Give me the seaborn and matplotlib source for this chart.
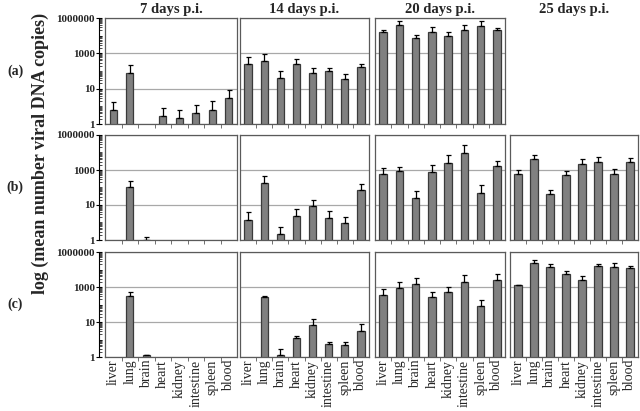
import matplotlib
matplotlib.use('Agg')
import numpy as np
import pandas as pd
import matplotlib.pyplot as plt
import seaborn as sns
from matplotlib.ticker import LogLocator, NullFormatter, FixedLocator

# --------------------------------------------------------------------------- #
# DATA  (mean copies / upper error; nan = not plotted)   #
# --------------------------------------------------------------------------- #
organs = ["liver", "lung", "brain", "heart", "kidney", "intestine", "spleen", "blood"]
days = ["7 days p.i.", "14 days p.i.", "20 days p.i.", "25 days p.i."]
rows = ["(a)", "(b)", "(c)"]
nan = np.nan

# row (a)
a7_mean = [6.2, 800, nan, 3.0, 2.2, 4.2, 6.2, 30]
a7_err = [11, 1300, nan, 4.7, 4, 7.2, 13, 54]
a14_mean = [2400, 3800, 400, 2400, 740, 1000, 350, 1700]
a14_err = [3600, 5100, 550, 2400, 810, 480, 300, 700]
a20_mean = [162000, 398000, 74000, 162000, 95000, 209000, 355000, 200000]
a20_err = [57000, 248000, 38000, 133000, 60000, 180000, 291000, 69000]
a25_mean = [nan] * 8
a25_err = [nan] * 8

# row (b)
b7_mean = [nan, 1000, 1.0, nan, nan, nan, nan, nan]
b7_err = [nan, 1240, 0.55, nan, nan, nan, nan, nan]
b14_mean = [14, 1800, 2.1, 23, 87, 18, 8.9, 720]
b14_err = [26, 2700, 3.4, 33, 113, 29, 13, 790]
b20_mean = [5900, 9100, 250, 7600, 24000, 89000, 500, 17000]
b20_err = [7600, 5000, 410, 11400, 45000, 168000, 820, 14000]
b25_mean = [5900, 44000, 430, 5100, 23000, 28000, 5900, 30000]
b25_err = [3600, 30000, 260, 4000, 21000, 24000, 5800, 20000]

# row (c)
c7_mean = [nan, 3000, 1.26, nan, nan, nan, nan, nan]
c7_err = [nan, 2400, 0.1, nan, nan, nan, nan, nan]
c14_mean = [nan, 2600, 1.26, 12, 68, 5.8, 4.7, 30]
c14_err = [nan, 350, 1.6, 3, 73, 1.6, 2.2, 44]
c20_mean = [3600, 8700, 14000, 2700, 4900, 20000, 780, 24000]
c20_err = [4300, 11300, 20000, 2700, 5300, 26000, 960, 28000]
c25_mean = [12300, 245000, 145000, 52000, 25000, 158000, 138000, 120000]
c25_err = [600, 86000, 69000, 26000, 19000, 56000, 107000, 31000]

means = [[a7_mean, a14_mean, a20_mean, a25_mean],
         [b7_mean, b14_mean, b20_mean, b25_mean],
         [c7_mean, c14_mean, c20_mean, c25_mean]]
errs = [[a7_err, a14_err, a20_err, a25_err],
        [b7_err, b14_err, b20_err, b25_err],
        [c7_err, c14_err, c20_err, c25_err]]

ytick_vals = [1, 100, 10000, 1000000]
ytick_labels = ["1", "10", "1000", "1000000"]

# --------------------------------------------------------------------------- #
# FIGURE                                                                      #
# --------------------------------------------------------------------------- #
sns.set_style("white")
plt.rcParams['font.family'] = ['Liberation Serif', 'DejaVu Serif']

fig = plt.figure(figsize=(6.4, 4.11), dpi=100)
W, H = 640.0, 411.0

col_x = [(105, 237), (240, 369), (375, 505), (510, 638)]
row_y = [(18, 124), (135, 240), (252, 357)]

BAR = "#808080"
EDGE = "#3a3a3a"
SPINE = "#5a5a5a"

for r in range(3):
    top, bot = row_y[r]
    for c in range(4):
        left, right = col_x[c]
        m = means[r][c]
        e = errs[r][c]
        if np.all(np.isnan(m)):
            continue
        ax = fig.add_axes([left / W, 1 - bot / H, (right - left) / W, (bot - top) / H])
        df = pd.DataFrame({"organ": organs, "copies": m, "err": e})
        sns.barplot(data=df, x="organ", y="copies", order=organs, color=BAR,
                    saturation=1, edgecolor=EDGE, linewidth=0.9, width=0.45,
                    errorbar=None, ax=ax)
        x = np.arange(len(organs))
        ok = ~np.isnan(df["copies"].values)
        ax.errorbar(x[ok], df["copies"].values[ok],
                    yerr=[np.zeros(ok.sum()), df["err"].values[ok]],
                    fmt="none", ecolor="black", elinewidth=0.9, capsize=1.8,
                    capthick=0.9)
        ax.set_yscale("log")
        ax.set_ylim(1, 1000000)
        ax.set_xlim(-0.5, 7.5)
        ax.yaxis.set_major_locator(FixedLocator(ytick_vals))
        ax.yaxis.set_minor_locator(FixedLocator([]))
        ax.yaxis.set_major_formatter(NullFormatter())
        ax.tick_params(axis="y", length=0)
        ax.yaxis.grid(True, color="#a8a8a8", linewidth=0.9)
        ax.set_axisbelow(True)
        ax.set_xlabel("")
        ax.set_ylabel("")
        # ticks between categories
        ax.xaxis.set_minor_locator(FixedLocator(np.arange(0.5, 7, 1.0)))
        ax.tick_params(axis="x", which="minor", bottom=True, length=3, width=0.6,
                       color=SPINE, direction="out")
        ax.tick_params(axis="x", which="major", length=0, pad=2)
        if r == 2:
            ax.set_xticks(x)
            ax.set_xticklabels(organs, rotation=90, fontsize=10)
        else:
            ax.set_xticklabels([])
        for sp in ax.spines.values():
            sp.set_visible(True)
            sp.set_color(SPINE)
            sp.set_linewidth(0.9)

    # separate labelled log axis on the left of each row
    lab = fig.add_axes([99 / W, 1 - bot / H, 0.0005, (bot - top) / H])
    lab.set_yscale("log")
    lab.set_ylim(1, 1000000)
    lab.yaxis.set_major_locator(FixedLocator(ytick_vals))
    lab.set_yticklabels(ytick_labels, fontsize=8, fontweight="bold")
    lab.yaxis.set_minor_locator(LogLocator(base=10, subs=np.arange(1, 10), numticks=100))
    lab.yaxis.set_minor_formatter(NullFormatter())
    lab.tick_params(axis="y", which="major", left=True, length=4, width=0.8,
                    direction="inout", pad=1, color="black")
    lab.tick_params(axis="y", which="minor", left=True, length=2.5, width=0.5,
                    direction="in", color="black")
    lab.xaxis.set_visible(False)
    for name, sp in lab.spines.items():
        sp.set_visible(name == "left")
    lab.spines["left"].set_linewidth(0.8)
    lab.spines["left"].set_color("black")
    lab.patch.set_alpha(0)

    fig.text(15 / W, 1 - ((top + bot) / 2) / H, rows[r], fontsize=10,
             fontweight="bold", ha="center", va="center")

for c in range(4):
    left, right = col_x[c]
    fig.text(((left + right) / 2) / W, 1 - 9 / H, days[c], fontsize=10.5,
             fontweight="bold", ha="center", va="center")

fig.text(40 / W, 1 - 153 / H, "log (mean number viral DNA copies)", fontsize=13,
         fontweight="bold", rotation=90, ha="center", va="center")

fig.savefig("out.png", dpi=100)
plt.close(fig)
